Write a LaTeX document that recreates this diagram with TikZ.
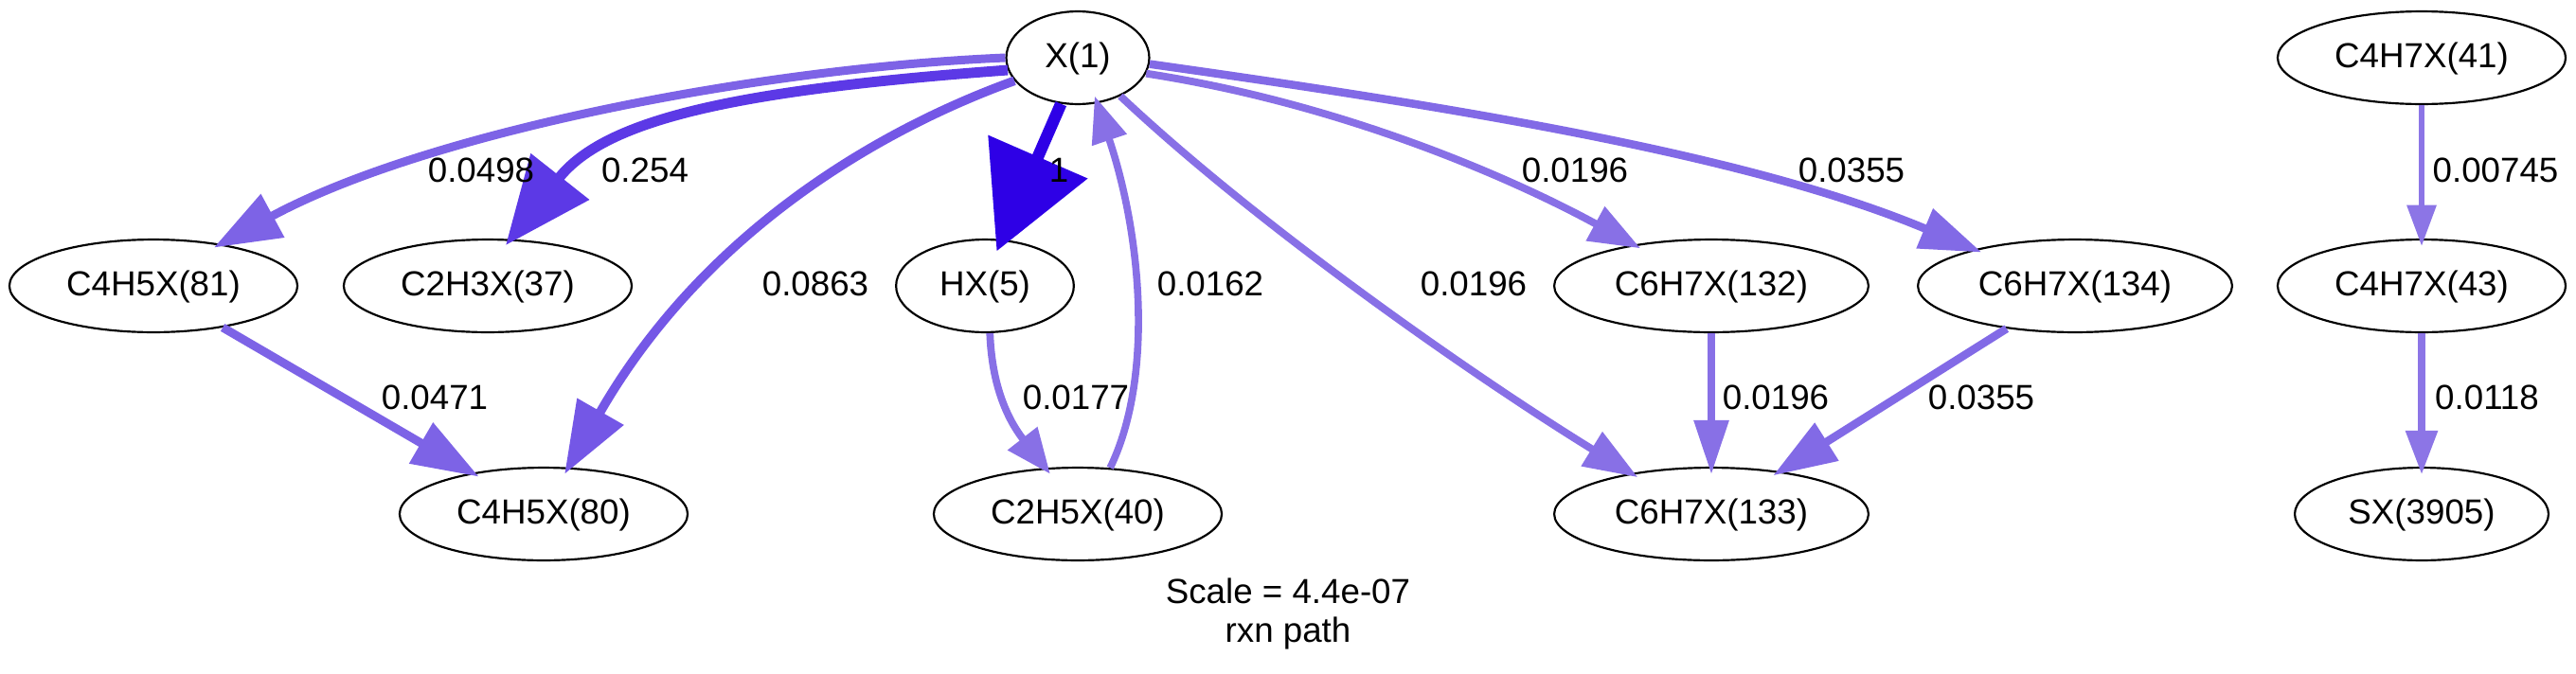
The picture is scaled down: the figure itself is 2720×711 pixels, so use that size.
\documentclass[tikz,border=0pt]{standalone}
\usepackage{fontspec}
\setmainfont{Liberation Sans}
\usetikzlibrary{arrows.meta,shapes.geometric}
\definecolor{fA}{RGB}{46,0,230}
\definecolor{fB}{RGB}{92,57,230}
\definecolor{fC}{RGB}{116,87,230}
\definecolor{fD}{RGB}{125,99,230}
\definecolor{fE}{RGB}{130,106,230}
\definecolor{fF}{RGB}{136,112,230}
\definecolor{fG}{RGB}{140,117,230}
\newcommand{\lblfont}{\fontsize{13.5}{16}\selectfont}
\tikzset{
  spec/.style={draw, line width=0.8pt, ellipse, inner sep=0pt, minimum height=36pt,
    text height=7.4pt, text depth=0pt, font=\lblfont},
  lab/.style={inner sep=0pt, font=\lblfont, anchor=base},
  fl/.style n args={4}{draw=#1, line width=#2, -{Triangle[length=#3,width=#4]}, shorten >=-3pt}
}
\begin{document}
\begin{tikzpicture}[x=0.36765pt, y=-0.36765pt]
\useasboundingbox (0,0) rectangle (2720,711);
% nodes
\node[spec, minimum width=55.5pt]  (X1)      at (1138,61)  {X(1)};
\node[spec, minimum width=111.8pt] (C4H5X81) at (162,302)  {C4H5X(81)};
\node[spec, minimum width=111.8pt] (C2H3X37) at (515,302)  {C2H3X(37)};
\node[spec, minimum width=69pt]    (HX5)     at (1040,302) {HX(5)};
\node[spec, minimum width=111.8pt] (C4H5X80) at (574,543)  {C4H5X(80)};
\node[spec, minimum width=111.8pt] (C2H5X40) at (1138,543) {C2H5X(40)};
\node[spec, minimum width=122pt]   (C6H7X132) at (1807,302) {C6H7X(132)};
\node[spec, minimum width=122pt]   (C6H7X134) at (2191,302) {C6H7X(134)};
\node[spec, minimum width=122pt]   (C6H7X133) at (1807,543) {C6H7X(133)};
\node[spec, minimum width=111.8pt] (C4H7X41) at (2557,61)  {C4H7X(41)};
\node[spec, minimum width=111.8pt] (C4H7X43) at (2557,302) {C4H7X(43)};
\node[spec, minimum width=98.5pt]  (SX3905)  at (2557,543) {SX(3905)};
% edges
\draw[fl={fD}{3.3pt}{26pt}{18.4pt}] (X1.180) .. controls (800,72) and (450,140) .. (C4H5X81.32);
\draw[fl={fB}{4.0pt}{34pt}{28pt}] (X1.190) .. controls (780,95) and (640,125) .. (C2H3X37.64);
\draw[fl={fC}{3.5pt}{28pt}{20pt}] (X1.200) .. controls (920,140) and (740,250) .. (C4H5X80.62);
\draw[fl={fA}{4.6pt}{40pt}{41pt}, shorten >=-5pt] (X1.250) -- (HX5.70);
\draw[fl={fF}{2.8pt}{18pt}{13.6pt}] (C2H5X40.55) .. controls (1218,400) and (1206,251) .. (X1.293);
\draw[fl={fF}{2.85pt}{17.5pt}{14pt}] (HX5.276) .. controls (1047,400) and (1060,438) .. (C2H5X40.125);
\draw[fl={fF}{2.9pt}{20pt}{14.5pt}] (X1.347) .. controls (1420,110) and (1600,190) .. (C6H7X132.152);
\draw[fl={fE}{3.15pt}{24pt}{16pt}] (X1.355) .. controls (1550,115) and (1850,165) .. (C6H7X134.160);
\draw[fl={fF}{2.9pt}{21pt}{15pt}] (X1.318) .. controls (1330,240) and (1560,400) .. (C6H7X133.153);
\draw[fl={fD}{3.3pt}{26pt}{17.6pt}] (C4H5X81.329) -- (C4H5X80.150);
\draw[fl={fF}{2.9pt}{21pt}{13pt}] (C6H7X132) -- (C6H7X133);
\draw[fl={fE}{3.15pt}{24.6pt}{16.7pt}] (C6H7X134.212) -- (C6H7X133.32);
\draw[fl={fG}{2.45pt}{16pt}{11pt}] (C4H7X41) -- (C4H7X43);
\draw[fl={fG}{2.67pt}{17pt}{12pt}] (C4H7X43) -- (SX3905);
% edge labels
\node[lab] (l1)  at (508,192)  {0.0498};
\node[lab] (l2)  at (681,192)  {0.254};
\node[lab] (l3)  at (1118,192) {1};
\node[lab] (l4)  at (1663,192) {0.0196};
\node[lab] (l5)  at (1955,192) {0.0355};
\node[lab] (l6)  at (2635,192) {0.00745};
\node[lab] (l7)  at (861,312)  {0.0863};
\node[lab] (l8)  at (1278,312) {0.0162};
\node[lab] (l9)  at (1556,312) {0.0196};
\node[lab] (l10) at (459,432)  {0.0471};
\node[lab] (l11) at (1136,432) {0.0177};
\node[lab] (l12) at (1875,432) {0.0196};
\node[lab] (l13) at (2092,432) {0.0355};
\node[lab] (l14) at (2626,432) {0.0118};
% graph label
\node[lab] (scale1) at (1360,637) {Scale = 4.4e-07};
\node[lab] (scale2) at (1360,678) {rxn path};
\end{tikzpicture}
\end{document}
